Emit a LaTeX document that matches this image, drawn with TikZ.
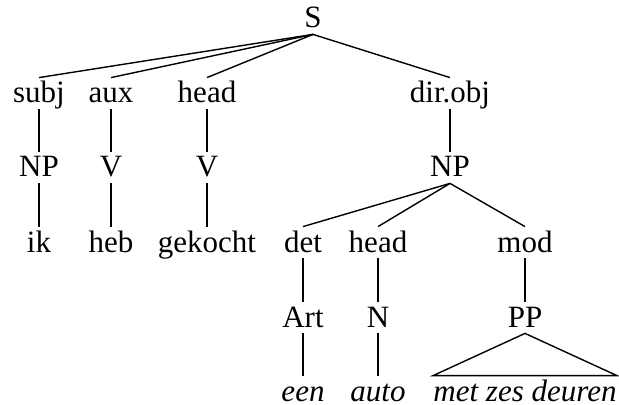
\documentclass[tikz,border=0pt]{standalone}
\usepackage{fontspec}
\setmainfont{Liberation Serif}
\begin{document}
\begin{tikzpicture}[x=0.5pt,y=-0.5pt,
  lbl/.style={anchor=base,inner xsep=0pt,inner ysep=0pt,text height=12.5pt,text depth=3pt,font=\fontsize{15.5}{18}\selectfont},
  leaf/.style={lbl,font=\fontsize{15.5}{18}\selectfont\itshape},
  edge/.style={line width=0.7pt}]
\useasboundingbox (0,0) rectangle (619,405);
% level 0
\node[lbl] (S) at (313,28) {S};
% level 1
\node[lbl] (subj) at (39,103) {subj};
\node[lbl] (aux) at (111,103) {aux};
\node[lbl] (head1) at (207,103) {head};
\node[lbl] (dirobj) at (450,103) {dir.obj};
% level 2
\node[lbl] (NP1) at (39,177) {NP};
\node[lbl] (V1) at (111,177) {V};
\node[lbl] (V2) at (207,177) {V};
\node[lbl] (NP2) at (450,177) {NP};
% level 3
\node[lbl] (ik) at (39,252) {ik};
\node[lbl] (heb) at (111,252) {heb};
\node[lbl] (gekocht) at (207,252) {gekocht};
\node[lbl] (det) at (303,252) {det};
\node[lbl] (head2) at (378,252) {head};
\node[lbl] (mod) at (525,252) {mod};
% level 4
\node[lbl] (Art) at (303,327) {Art};
\node[lbl] (N) at (378,327) {N};
\node[lbl] (PP) at (525,327) {PP};
% level 5
\node[leaf] (een) at (303,401) {een};
\node[leaf] (auto) at (378,401) {auto};
\node[leaf] (met) at (525,401) {met zes deuren};
% edges
\foreach \a/\b in {S/subj,S/aux,S/head1,S/dirobj,
  subj/NP1,aux/V1,head1/V2,dirobj/NP2,
  NP1/ik,V1/heb,V2/gekocht,
  NP2/det,NP2/head2,NP2/mod,
  det/Art,head2/N,mod/PP,
  Art/een,N/auto}
  \draw[edge] (\a.south) -- (\b.north);
\draw[edge] (met.north west) -- (PP.south) -- (met.north east) -- cycle;
\end{tikzpicture}
\end{document}
